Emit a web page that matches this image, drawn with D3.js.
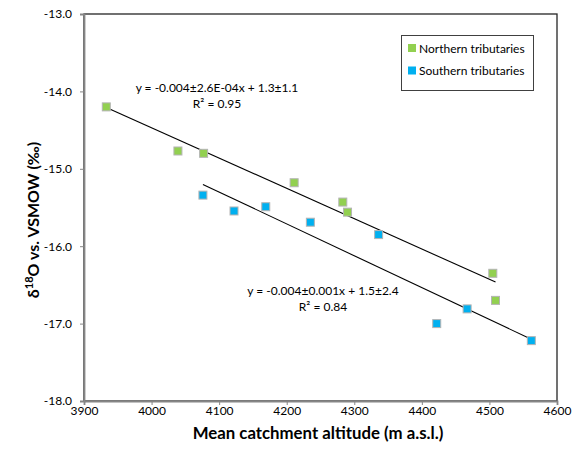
<!DOCTYPE html>
<html>
<head>
<meta charset="utf-8">
<script src="https://cdn.jsdelivr.net/npm/d3@7"></script>
<style>
  body { margin: 0; background: #fff; }
  text { font-family: Lato, "Open Sans", sans-serif; fill: #000; }
</style>
</head>
<body>
<div id="chart-area"></div>
<script>
// Northern / southern tributaries, altitude vs d18O

var northAlt = [3933, 4039, 4077, 4211, 4283, 4290, 4505, 4509];
var northD18O = [-14.20, -14.77, -14.80, -15.18, -15.43, -15.56, -16.35, -16.70];

var southAlt = [4076, 4122, 4169, 4235, 4336, 4422, 4467, 4562];
var southD18O = [-15.34, -15.545, -15.49, -15.69, -15.85, -17.00, -16.81, -17.22];

var xTicks = [3900, 4000, 4100, 4200, 4300, 4400, 4500, 4600];
var yTicks = [-13, -14, -15, -16, -17, -18];

var seriesNames = ["Northern tributaries", "Southern tributaries"];
var seriesColors = ["#92D050", "#00B0F0"];
var eqLabels = [
    ["y = -0.004\u00b12.6E-04x + 1.3\u00b11.1", "R\u00b2 = 0.95"],
    ["y = -0.004\u00b10.001x + 1.5\u00b12.4", "R\u00b2 = 0.84"]
];

var width = 576;
var height = 459;
var plotL = 84, plotR = 557, plotT = 14, plotB = 401;

var svg = d3.select("#chart-area")
    .append("svg")
    .attr("width", width)
    .attr("height", height);

var x = d3.scaleLinear().domain([3900, 4600]).range([plotL, plotR]);
var y = d3.scaleLinear().domain([-18, -13]).range([plotB, plotT]);

// plot area frame
svg.append("rect")
    .attr("x", plotL)
    .attr("y", plotT)
    .attr("width", plotR - plotL)
    .attr("height", plotB - plotT)
    .attr("fill", "none")
    .attr("stroke", "#262626")
    .attr("stroke-width", 1.3);

var xAxis = svg.append("g")
    .attr("transform", "translate(0," + plotB + ")")
    .call(d3.axisBottom(x).tickValues(xTicks).tickFormat(function(d) { return d; }).tickSize(4).tickPadding(1));

var yAxis = svg.append("g")
    .attr("transform", "translate(" + plotL + ",0)")
    .call(d3.axisLeft(y).tickValues(yTicks).tickFormat(function(d) { return d.toFixed(1); }).tickSize(4).tickPadding(8));

[xAxis, yAxis].forEach(function(g) {
    g.select(".domain").attr("stroke", "#868686").attr("stroke-width", 1.8);
    g.selectAll(".tick line").attr("stroke", "#868686");
    g.selectAll(".tick text").attr("font-size", 12).attr("font-family", "Lato, sans-serif").attr("fill", "#000");
});

// least squares fit
function fit(xs, ys) {
    var mx = d3.mean(xs), my = d3.mean(ys);
    var sxy = 0, sxx = 0;
    xs.forEach(function(v, i) {
        sxy += (v - mx) * (ys[i] - my);
        sxx += (v - mx) * (v - mx);
    });
    var b = sxy / sxx;
    return { b: b, a: my - b * mx };
}

var series = [
    { xs: northAlt, ys: northD18O },
    { xs: southAlt, ys: southD18O }
];

series.forEach(function(s, k) {
    var f = fit(s.xs, s.ys);
    var x0 = d3.min(s.xs), x1 = d3.max(s.xs);
    svg.append("line")
        .attr("x1", x(x0))
        .attr("y1", y(f.a + f.b * x0))
        .attr("x2", x(x1))
        .attr("y2", y(f.a + f.b * x1))
        .attr("stroke", "#000")
        .attr("stroke-width", 1.1);
});

series.forEach(function(s, k) {
    svg.selectAll(".pt" + k)
        .data(s.xs)
        .enter()
        .append("rect")
        .attr("x", function(d) { return x(d) - 4; })
        .attr("y", function(d, i) { return y(s.ys[i]) - 4; })
        .attr("width", 8)
        .attr("height", 8)
        .attr("fill", seriesColors[k])
        .attr("stroke", "#B4B4B4")
        .attr("stroke-width", 1);
});

// equation labels
var eqPos = [[217, 92], [323, 295]];
eqLabels.forEach(function(lines, k) {
    lines.forEach(function(t, j) {
        svg.append("text")
            .attr("x", eqPos[k][0])
            .attr("y", eqPos[k][1] + j * 16)
            .attr("text-anchor", "middle")
            .attr("font-size", 12)
            .text(t);
    });
});

// legend
var lg = svg.append("g");
lg.append("rect")
    .attr("x", 401.5)
    .attr("y", 35.5)
    .attr("width", 132)
    .attr("height", 55)
    .attr("fill", "#fff")
    .attr("stroke", "#404040");
seriesNames.forEach(function(n, k) {
    lg.append("rect")
        .attr("x", 408)
        .attr("y", 44 + k * 22.5)
        .attr("width", 8)
        .attr("height", 8)
        .attr("fill", seriesColors[k]);
    lg.append("text")
        .attr("x", 419)
        .attr("y", 52.5 + k * 22.5)
        .attr("font-size", 12)
        .text(n);
});

// axis titles
svg.append("text")
    .attr("x", 318)
    .attr("y", 439)
    .attr("text-anchor", "middle")
    .attr("font-size", 16.8)
    .attr("font-weight", "bold")
    .text("Mean catchment altitude (m a.s.l.)");

var yt = svg.append("text")
    .attr("transform", "translate(39,220) rotate(-90)")
    .attr("text-anchor", "middle")
    .attr("font-size", 16)
    .attr("font-weight", "bold");
yt.append("tspan").text("\u03b4");
yt.append("tspan").attr("font-size", 11).attr("dy", -6).text("18");
yt.append("tspan").attr("dy", 6).text("O vs. VSMOW (\u2030)");
</script>
</body>
</html>
